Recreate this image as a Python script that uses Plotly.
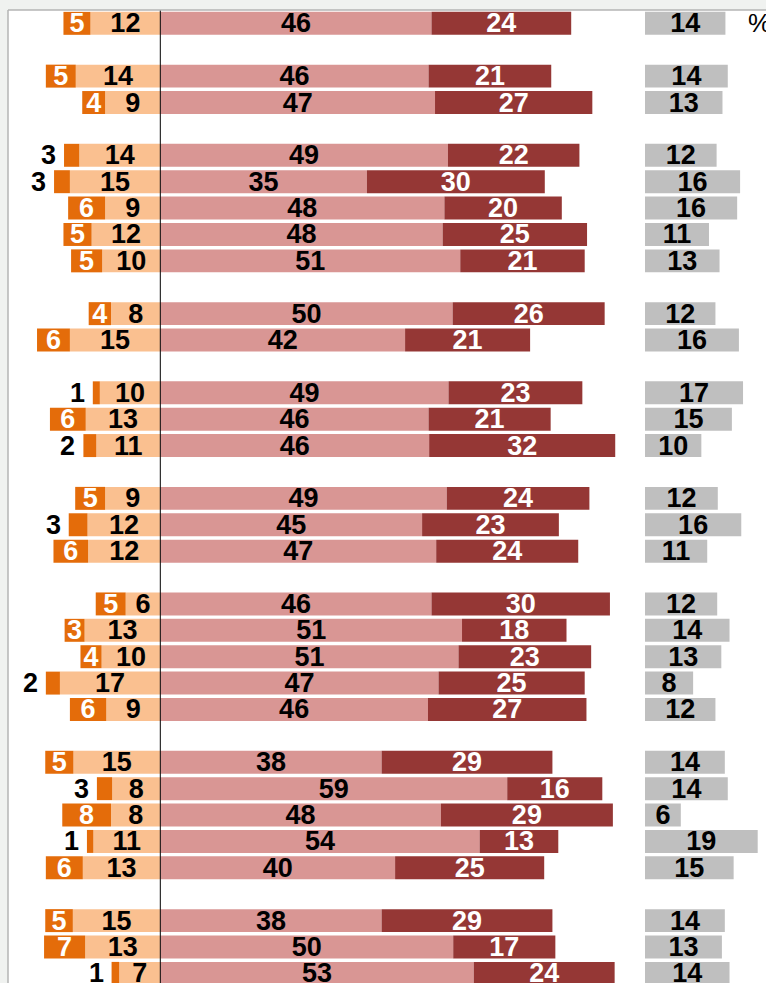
import plotly.graph_objects as go

# ---------------- data (percent) ----------------
GROUP_SIZES = [1, 2, 5, 2, 3, 3, 5, 5, 3]

strong_neg = [4.6, 5.1, 3.9, 2.6, 2.7, 6.3, 4.8, 5.3, 3.8, 5.6, 1.2, 6.1, 2.2,
              5.1, 3.2, 5.9, 5.1, 3.4, 3.6, 2.4, 6.2, 4.8, 2.6, 8.3, 1.1, 6.3,
              4.7, 7.0, 1.3]
mild_neg = [11.9, 14.4, 9.4, 13.8, 15.4, 9.4, 11.7, 9.9, 8.4, 15.4, 10.3, 12.7,
            10.9, 9.4, 12.4, 12.3, 5.9, 12.9, 10.0, 17.1, 9.2, 14.8, 8.2, 8.4,
            11.4, 13.2, 14.9, 12.8, 7.0]
mild_pos = [46.2, 45.7, 46.8, 49.0, 35.2, 48.4, 48.1, 51.1, 49.8, 41.7, 49.1,
            45.7, 45.8, 48.8, 44.6, 47.0, 46.2, 51.4, 50.8, 47.4, 45.6, 37.7,
            59.1, 47.8, 54.4, 40.0, 37.7, 49.9, 53.4]
strong_pos = [23.8, 20.9, 26.8, 22.4, 30.3, 20.0, 24.6, 21.2, 25.9, 21.3, 22.8,
              20.8, 31.7, 24.3, 23.3, 24.2, 30.4, 17.8, 22.6, 24.9, 27.0, 29.1,
              16.2, 29.3, 13.4, 25.4, 29.1, 17.4, 24.0]
no_answer = [13.7, 14.1, 13.2, 12.2, 16.2, 15.7, 10.9, 12.7, 12.0, 16.0, 16.7,
             14.8, 9.6, 12.4, 16.4, 10.6, 12.3, 14.4, 13.0, 8.2, 12.0, 13.6,
             14.1, 6.1, 19.2, 15.1, 13.6, 13.1, 14.4]

UNIT_LABEL = "%"

# ---------------- styling ----------------
C_STRONG_NEG = "#E46C0A"
C_MILD_NEG = "#FAC090"
C_MILD_POS = "#D99694"
C_STRONG_POS = "#953735"
C_NA = "#BFBFBF"
FONT = "Liberation Sans, Arial, sans-serif"
FS = 27
MIN_INSIDE = 3.3  # small dark-orange segments get their label outside

# row slots with an empty slot between groups
slots = []
pos = 0
for g in GROUP_SIZES:
    for _ in range(g):
        slots.append(pos)
        pos += 1
    pos += 1


def lab(vals):
    return [str(int(v + 0.5)) for v in vals]


def bold(color):
    return dict(family=FONT, size=FS, color=color, weight="bold")


fig = go.Figure()

common = dict(orientation="h", hoverinfo="skip", textangle=0,
              constraintext="none", insidetextanchor="middle",
              textposition="inside", marker_line_width=0, cliponaxis=False)

fig.add_trace(go.Bar(
    y=slots, x=[-v for v in mild_neg], text=lab(mild_neg),
    marker_color=C_MILD_NEG, insidetextfont=bold("black"), **common))

fig.add_trace(go.Bar(
    y=slots, x=[-v for v in strong_neg],
    text=[t if v >= MIN_INSIDE else "" for v, t in zip(strong_neg, lab(strong_neg))],
    marker_color=C_STRONG_NEG, insidetextfont=bold("white"), **common))

fig.add_trace(go.Bar(
    y=slots, x=mild_pos, text=lab(mild_pos),
    marker_color=C_MILD_POS, insidetextfont=bold("black"), **common))

fig.add_trace(go.Bar(
    y=slots, x=strong_pos, text=lab(strong_pos),
    marker_color=C_STRONG_POS, insidetextfont=bold("white"), **common))

fig.add_trace(go.Bar(
    y=slots, x=no_answer, text=lab(no_answer), xaxis="x2", yaxis="y",
    marker_color=C_NA, insidetextfont=bold("black"), **common))

# labels of the thin dark-orange segments sit just left of the bar end
annotations = []
for s, v, m, t in zip(slots, strong_neg, mild_neg, lab(strong_neg)):
    if v < MIN_INSIDE:
        annotations.append(dict(
            text=t, xref="x", x=-(v + m), xanchor="right", xshift=-6,
            yref="y", y=s, yanchor="middle", showarrow=False,
            font=bold("black")))

# geometry: 5.87 px per percentage point, zero at x=160, grey block at x=645
W, H = 766, 983
ML, MT = 8, 10
PX_PER_UNIT = 5.87
ZERO_PX = 160.3
NA_PX = 645.0
ROW_PX = 26.39
FIRST_ROW_PX = 23.35

plot_w = W - ML
split = (NA_PX - ML) / plot_w
x_min = (ML - ZERO_PX) / PX_PER_UNIT
x_max = (NA_PX - ZERO_PX) / PX_PER_UNIT
x2_max = (W - NA_PX) / PX_PER_UNIT
y_top = (MT - FIRST_ROW_PX) / ROW_PX
y_bot = (H - FIRST_ROW_PX) / ROW_PX

annotations.append(dict(
    text=UNIT_LABEL, xref="paper", x=(745.7 - ML) / plot_w,
    xanchor="left", yref="y", y=slots[0], yanchor="middle",
    showarrow=False, font=dict(family=FONT, size=FS - 1, color="black")))

ax_off = dict(showgrid=False, zeroline=False, showticklabels=False,
              ticks="", showline=False, fixedrange=True)

fig.update_layout(
    width=W, height=H,
    margin=dict(l=ML, r=0, t=MT, b=0, pad=0),
    paper_bgcolor="#F0F2F0",
    plot_bgcolor="white",
    barmode="relative",
    bargap=0.13,
    showlegend=False,
    font=dict(family=FONT),
    xaxis=dict(domain=[0, split], range=[x_min, x_max], **ax_off),
    xaxis2=dict(domain=[split, 1], range=[0, x2_max], anchor="y", **ax_off),
    yaxis=dict(range=[y_bot, y_top], **ax_off),
    shapes=[
        dict(type="line", xref="x", x0=0, x1=0, yref="paper", y0=0, y1=1,
             line=dict(color="black", width=1), layer="above"),
        dict(type="line", xref="paper", x0=0, x1=0, yref="paper", y0=0, y1=1,
             line=dict(color="#B4B4B4", width=1.5), layer="above"),
        dict(type="line", xref="paper", x0=0, x1=1, yref="paper", y0=1, y1=1,
             line=dict(color="#B4B4B4", width=1.5), layer="above"),
    ],
    annotations=annotations,
)

fig.write_html(
    "out.html",
    config={"displayModeBar": False, "staticPlot": True},
    post_script="document.body.style.margin='0';document.body.style.overflow='hidden';",
)
